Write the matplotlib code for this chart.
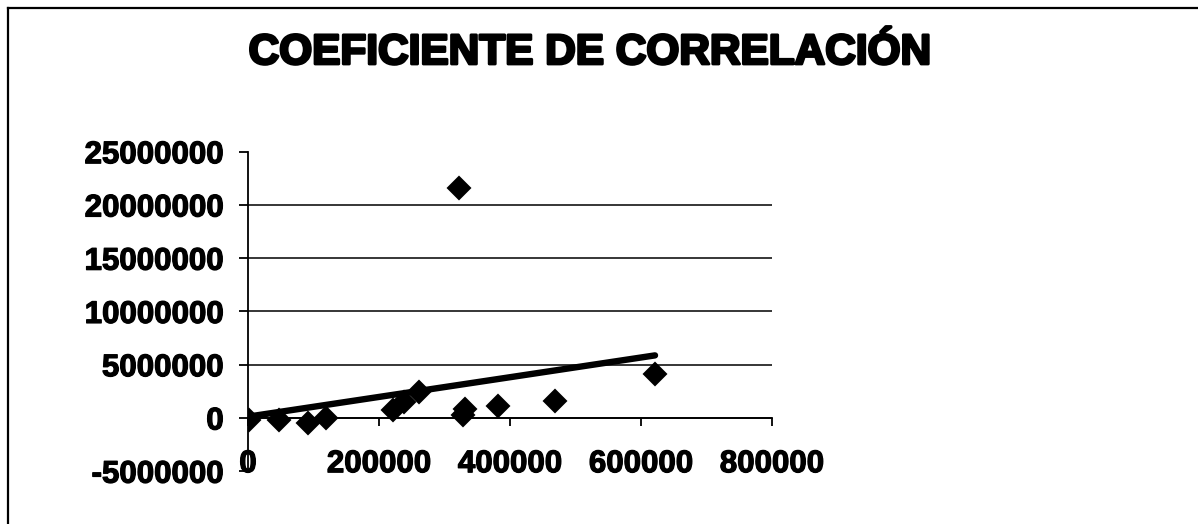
import numpy as np
import matplotlib
matplotlib.use('Agg')
import matplotlib.pyplot as plt
import matplotlib.patheffects as pe
from matplotlib.lines import Line2D

# valores
x_vals = [2000, 47800, 91100, 119000, 221000, 238600, 261500,
          322600, 327800, 331800, 381200, 468700, 621400]
y_vals = [-210000, -210000, -470000, 40000, 720000, 1500000, 2430000,
          21630000, 250000, 880000, 1100000, 1560000, 4160000]
x_ticks = [0, 200000, 400000, 600000, 800000]
y_ticks = [-5000000, 0, 5000000, 10000000, 15000000, 20000000, 25000000]
titulo = 'COEFICIENTE DE CORRELACIÓN'

plt.rcParams['font.family'] = ['Liberation Sans', 'DejaVu Sans']

fig = plt.figure(figsize=(11.98, 5.24), dpi=100)
ax = fig.add_axes([248 / 1198, 1 - 471.2 / 524, 524 / 1198, (471.2 - 151.7) / 524])

x = np.array(x_vals)
y = np.array(y_vals)

ax.plot(x, y, linestyle='none', marker='D', markersize=11.5,
        color='black', markeredgewidth=1.5, markeredgecolor='black', zorder=4)

# línea de tendencia lineal
m, b = np.polyfit(x, y, 1)
xt = np.array([x.min(), x.max()])
ax.plot(xt, m * xt + b, color='black', lw=4.6, solid_capstyle='round', zorder=3)

ax.set_xlim(0, 800000)
ax.set_ylim(-5000000, 25000000)
ax.set_xticks(x_ticks)
ax.set_yticks(y_ticks)
ax.set_xticklabels([str(v) for v in x_ticks])
ax.set_yticklabels([str(v) for v in y_ticks])

for s in ['top', 'right']:
    ax.spines[s].set_visible(False)
ax.spines['bottom'].set_position(('data', 0))
ax.spines['bottom'].set_linewidth(1.3)
ax.spines['left'].set_linewidth(1.3)

ax.tick_params(axis='x', direction='out', length=6, width=1.3, pad=16.5)
ax.tick_params(axis='y', direction='out', length=6.5, width=1.3, pad=11)
bold_fx = [pe.withStroke(linewidth=0.9, foreground='black')]
for lab in ax.get_xticklabels() + ax.get_yticklabels():
    lab.set_fontsize(22.5)
    lab.set_fontweight('bold')
    lab.set_path_effects(bold_fx)

ax.grid(axis='y', color='black', lw=1.1)
gl = ax.get_ygridlines()
gl[0].set_visible(False)
gl[-1].set_visible(False)
ax.set_axisbelow(True)

fig.text(590 / 1198, 1 - 64 / 524, titulo, ha='center', va='baseline',
         fontsize=30.5, fontweight='bold',
         path_effects=[pe.withStroke(linewidth=2, foreground='black')])

# marco del gráfico
fig.add_artist(Line2D([8 / 1198, 1], [1 - 8 / 524, 1 - 8 / 524],
                      transform=fig.transFigure, color='black', lw=1.6))
fig.add_artist(Line2D([8 / 1198, 8 / 1198], [0, 1 - 8 / 524],
                      transform=fig.transFigure, color='black', lw=1.6))

fig.savefig('out.png', dpi=100)
